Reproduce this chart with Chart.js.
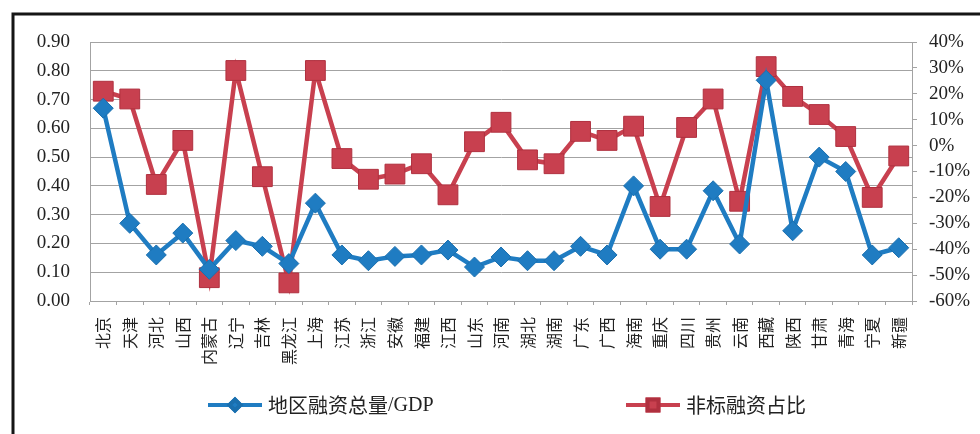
<!DOCTYPE html>
<html>
<head>
<meta charset="utf-8">
<script src="https://cdn.jsdelivr.net/npm/chart.js@4/dist/chart.umd.min.js"></script>
<style>
  html, body { margin: 0; padding: 0; background: #fff; }
  #wrap { width: 980px; height: 434px; position: relative; }
</style>
</head>
<body>
<div id="wrap"><canvas id="grafica" width="980" height="434"></canvas></div>
<script>
// provinces along the x axis
const provinces = ["北京", "天津", "河北", "山西", "内蒙古", "辽宁", "吉林", "黑龙江", "上海", "江苏",
    "浙江", "安徽", "福建", "江西", "山东", "河南", "湖北", "湖南", "广东", "广西",
    "海南", "重庆", "四川", "贵州", "云南", "西藏", "陕西", "甘肃", "青海", "宁夏", "新疆"];

// 地区融资总量/GDP (left axis)
const financingToGdp = [0.67, 0.27, 0.16, 0.236, 0.11, 0.21, 0.19, 0.13, 0.34, 0.16,
    0.14, 0.155, 0.16, 0.177, 0.118, 0.153, 0.14, 0.14, 0.19, 0.16,
    0.40, 0.18, 0.18, 0.383, 0.198, 0.767, 0.244, 0.50, 0.45, 0.16, 0.185];

// 非标融资占比 in % (right axis)
const nonStandardShare = [21, 18, -15, 2, -51, 29, -12, -53, 29, -5,
    -13, -11, -7, -19, 1.5, 9, -5.5, -7, 5.5, 2,
    7.5, -23.5, 7, 18, -21.5, 30.5, 19, 12, 3.5, -20, -4];

const seriesNames = ["地区融资总量/GDP", "非标融资占比"];

const blue = "#1f7cc2";
const red = "#c8404f";
const gridColor = "#a3a3a3";

// frame lines + legend at the bottom (line with marker, like excel)
const extras = {
    id: "extras",
    afterDraw(chart) {
        const ctx = chart.ctx;
        ctx.save();
        ctx.strokeStyle = "#151515";
        ctx.lineWidth = 3;
        ctx.beginPath();
        ctx.moveTo(13, 434);
        ctx.lineTo(13, 14);
        ctx.lineTo(980, 14);
        ctx.stroke();

        const items = [
            { ds: chart.data.datasets[0], x: 208 },
            { ds: chart.data.datasets[1], x: 626 }
        ];
        const y = 405;
        items.forEach(item => {
            ctx.strokeStyle = item.ds.borderColor;
            ctx.lineWidth = 4;
            ctx.beginPath();
            ctx.moveTo(item.x, y);
            ctx.lineTo(item.x + 54, y);
            ctx.stroke();
            Chart.helpers.drawPoint(ctx, {
                pointStyle: item.ds.pointStyle,
                radius: item.ds.pointRadius * 0.55,
                borderWidth: 1
            }, item.x + 27, y);
            ctx.fillStyle = item.ds.pointBackgroundColor;
            ctx.strokeStyle = item.ds.pointBorderColor;
            ctx.fill();
            ctx.stroke();
            ctx.fillStyle = "#222";
            ctx.textBaseline = "middle";
            ctx.textAlign = "left";
            const label = item.ds.label;
            const slash = label.indexOf("/");
            let tx = item.x + 60;
            ctx.font = "20px 'Noto Sans CJK SC'";
            if (slash >= 0) {
                ctx.fillText(label.slice(0, slash), tx, y);
                tx += ctx.measureText(label.slice(0, slash)).width;
                ctx.font = "20px 'Liberation Serif'";
                ctx.fillText(label.slice(slash), tx, y + 1);
            } else {
                ctx.fillText(label, tx, y);
            }
        });
        ctx.restore();
    }
};

const grafica = document.getElementById("grafica");
const myChart = new Chart(grafica, {
    type: "line",
    data: {
        labels: provinces,
        datasets: [{
            label: seriesNames[0],
            data: financingToGdp,
            yAxisID: "y",
            borderColor: blue,
            borderWidth: 4.5,
            pointStyle: "rectRot",
            pointRadius: 10,
            pointBackgroundColor: blue,
            pointBorderColor: "#1a6fae",
            pointBorderWidth: 1,
            tension: 0
        }, {
            label: seriesNames[1],
            data: nonStandardShare,
            yAxisID: "y1",
            borderColor: red,
            borderWidth: 4.5,
            pointStyle: "rect",
            pointRadius: 14,
            pointBackgroundColor: red,
            pointBorderColor: "#b0303f",
            pointBorderWidth: 1,
            tension: 0
        }]
    },
    options: {
        responsive: false,
        animation: false,
        layout: { padding: { left: 12, right: 0, top: 42, bottom: 0 } },
        plugins: {
            legend: { display: false },
            tooltip: { enabled: false }
        },
        scales: {
            x: {
                offset: true,
                afterFit: s => { s.height = 133; },
                grid: { offset: true, drawOnChartArea: false, tickLength: 4, color: gridColor },
                border: { color: gridColor },
                ticks: {
                    autoSkip: false,
                    minRotation: 90,
                    maxRotation: 90,
                    padding: 12,
                    color: "#222",
                    font: { family: "'Noto Sans CJK SC'", size: 16 }
                }
            },
            y: {
                position: "left",
                min: 0,
                max: 0.9,
                afterFit: s => { s.width = 78; },
                grid: { color: gridColor, drawTicks: false },
                border: { color: gridColor },
                ticks: {
                    stepSize: 0.1,
                    padding: 20,
                    color: "#222",
                    font: { family: "'Liberation Serif'", size: 19 },
                    callback: v => v.toFixed(2)
                }
            },
            y1: {
                position: "right",
                min: -60,
                max: 40,
                afterFit: s => { s.width = 68; },
                grid: { drawOnChartArea: false, tickLength: 5, color: gridColor },
                border: { color: gridColor },
                ticks: {
                    stepSize: 10,
                    padding: 12,
                    color: "#222",
                    font: { family: "'Liberation Serif'", size: 19 },
                    callback: v => v + "%"
                }
            }
        }
    },
    plugins: [extras]
});
</script>
</body>
</html>
